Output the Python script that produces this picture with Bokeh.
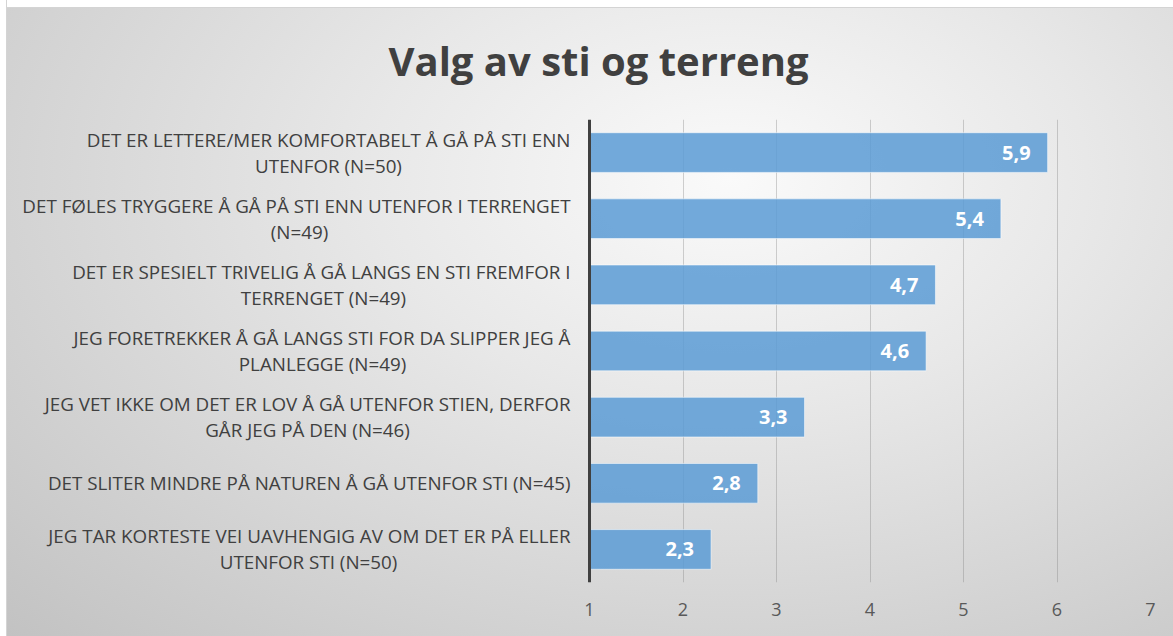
from bokeh.plotting import figure
from bokeh.models import FactorRange, Range1d, FixedTicker, ColumnDataSource, Span
from bokeh.core.properties import value
from bokeh.embed import file_html
from bokeh.resources import INLINE

# ---------------- data ----------------
title_text = "Valg av sti og terreng"
# "|" marks where the category label wraps onto a second line
categories = [
    "DET ER LETTERE/MER KOMFORTABELT Å GÅ PÅ STI ENN|UTENFOR (N=50)",
    "DET FØLES TRYGGERE Å GÅ PÅ STI ENN UTENFOR I TERRENGET|(N=49)",
    "DET ER SPESIELT TRIVELIG Å GÅ LANGS EN STI FREMFOR I|TERRENGET (N=49)",
    "JEG FORETREKKER Å GÅ LANGS STI FOR DA SLIPPER JEG Å|PLANLEGGE (N=49)",
    "JEG VET IKKE OM DET ER LOV Å GÅ UTENFOR STIEN, DERFOR|GÅR JEG PÅ DEN (N=46)",
    "DET SLITER MINDRE PÅ NATUREN Å GÅ UTENFOR STI (N=45)",
    "JEG TAR KORTESTE VEI UAVHENGIG AV OM DET ER PÅ ELLER|UTENFOR STI (N=50)",
]
values = [5.9, 5.4, 4.7, 4.6, 3.3, 2.8, 2.3]
x_ticks = [1, 2, 3, 4, 5, 6, 7]
axis_start = 1
axis_end = 7

# ---------------- layout / style ----------------
FONT = "Open Sans"
TEXT_COLOR = "#404040"
FIG_W, FIG_H = 1166, 636
FRAME_LEFT = 5            # frame extends under the category labels
VALUE_AXIS_LEFT = 582     # pixel where the value axis (x = 1) starts
RIGHT_BORDER = 23
px_per_unit = (FIG_W - RIGHT_BORDER - VALUE_AXIS_LEFT) / (axis_end - axis_start)
x_start = axis_start - (VALUE_AXIS_LEFT - FRAME_LEFT) / px_per_unit

# horizontal centre (px, relative to the value axis) of each wrapped label
line2_center_px = [-261, -290, -266, -267, -282, 0, -281]
label_gap_px = -19
half_line_px = 13
LABEL_SIZE = "18.8px"

keys = [c.replace("|", " ") for c in categories]
line1 = [c.split("|")[0] for c in categories]
line2 = [c.split("|")[1] if "|" in c else "" for c in categories]
value_text = [f"{v:.1f}".replace(".", ",") for v in values]

p = figure(
    width=FIG_W, height=FIG_H,
    y_range=FactorRange(factors=list(reversed(keys)), range_padding=0),
    x_range=Range1d(x_start, axis_end),
    output_backend="svg", toolbar_location=None,
    min_border_left=FRAME_LEFT, min_border_right=RIGHT_BORDER,
    min_border_top=119, min_border_bottom=54,
)
p.styles = {
    "background": (
        "linear-gradient(#ffffff, #ffffff) 0 0 / 100% 7px no-repeat, "
        "linear-gradient(#d4d4d4, #d4d4d4) 0 7px / 100% 1px no-repeat, "
        "radial-gradient(ellipse farthest-corner at 62% 28%, #fafafa 0%, #e8e8e8 35%, #c2c2c2 100%)"
    ),
    "outline": "1px solid #d4d4d4",
    "margin-left": "7px",
}
p.border_fill_alpha = 0
p.background_fill_alpha = 0
p.outline_line_color = None

p.title.text = title_text
p.title.align = "left"
p.title.offset = 376
p.title.vertical_align = "top"
p.title.standoff = 60
p.title.text_font = FONT
p.title.text_font_size = "40px"
p.title.text_font_style = "bold"
p.title.text_color = TEXT_COLOR

# grid & axes
p.ygrid.visible = False
p.xgrid.ticker = FixedTicker(ticks=x_ticks)
p.xgrid.grid_line_color = "#7f7f7f"
p.xgrid.grid_line_alpha = 0.35
p.xgrid.grid_line_width = 1
p.yaxis.visible = False
p.xaxis.ticker = FixedTicker(ticks=x_ticks)
p.xaxis.axis_line_color = None
p.xaxis.major_tick_line_color = None
p.xaxis.minor_tick_line_color = None
p.xaxis.major_label_text_font = FONT
p.xaxis.major_label_text_font_size = "18px"
p.xaxis.major_label_text_color = "#595959"
p.xaxis.major_label_standoff = 14

bars = ColumnDataSource(dict(cat=keys, val=values, lbl=value_text))
p.hbar(y="cat", left=axis_start, right="val", height=0.6, source=bars,
       fill_color="#5B9BD5", fill_alpha=0.85, line_color="#ffffff", line_alpha=0.55, line_width=1)

p.add_layout(Span(location=axis_start, dimension="height", line_color="#404040", line_width=3))

p.text(x="val", y="cat", text="lbl", source=bars, x_offset=-17,
       text_align="right", text_baseline="middle", text_color="#ffffff",
       text_font=value(FONT), text_font_style="bold", text_font_size="20px")

# category labels
l1 = ColumnDataSource(dict(
    x=[axis_start] * len(keys), cat=keys, text=line1,
    yoff=[-half_line_px if t else 0 for t in line2],
))
p.text(x="x", y="cat", text="text", source=l1, x_offset=label_gap_px, y_offset="yoff",
       text_align="right", text_baseline="middle", text_color=TEXT_COLOR,
       text_font=value(FONT), text_font_size=LABEL_SIZE)

idx = [i for i, t in enumerate(line2) if t]
l2 = ColumnDataSource(dict(
    x=[axis_start] * len(idx), cat=[keys[i] for i in idx], text=[line2[i] for i in idx],
    xoff=[line2_center_px[i] for i in idx],
))
p.text(x="x", y="cat", text="text", source=l2, x_offset="xoff", y_offset=half_line_px,
       text_align="center", text_baseline="middle", text_color=TEXT_COLOR,
       text_font=value(FONT), text_font_size=LABEL_SIZE)

open("out.html", "w").write(file_html(p, INLINE))
